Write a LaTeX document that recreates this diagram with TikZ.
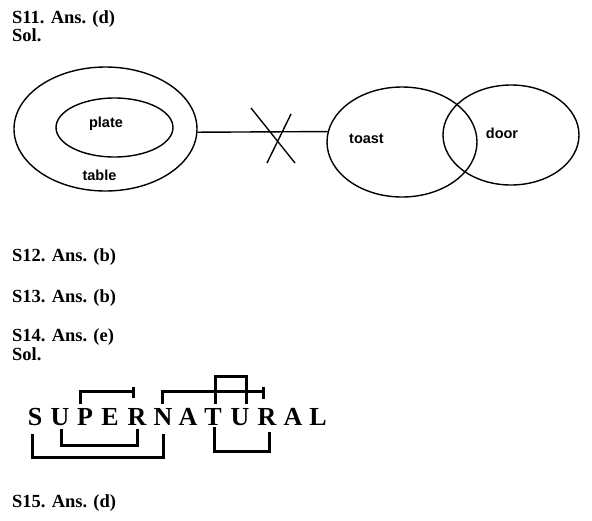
\documentclass[tikz,border=0pt]{standalone}
\usepackage{fontspec}
\setmainfont{Liberation Serif}
\newfontfamily\labelfont{Liberation Sans}
\usetikzlibrary{shapes.geometric}
\begin{document}
\begin{tikzpicture}[x=1pt,y=-1pt,
  heading/.style={anchor=base west,inner sep=0pt,font=\fontsize{18.5}{20}\selectfont\bfseries},
  setbox/.style={draw,ellipse,line width=1.4pt,inner sep=0pt},
  setlabel/.style={inner sep=0pt,font=\labelfont\fontsize{14.5}{16}\selectfont\bfseries},
  letter/.style={anchor=base,inner sep=0pt,font=\fontsize{26}{28}\selectfont\bfseries},
  bracket/.style={line width=3pt,line cap=rect},
  thinline/.style={line width=1.4pt}]
\useasboundingbox (0,0) rectangle (592,520);
\fill[white] (0,0) rectangle (592,520);
% headings
\node[heading] (h11) at (12,23) {S11. Ans. (d)};
\node[heading] (s11) at (12,41) {Sol.};
\node[heading] (h12) at (12,261) {S12. Ans. (b)};
\node[heading] (h13) at (12,302) {S13. Ans. (b)};
\node[heading] (h14) at (12,341) {S14. Ans. (e)};
\node[heading] (s14) at (12,360) {Sol.};
\node[heading] (h15) at (12,507) {S15. Ans. (d)};
% Venn diagram
\node[setbox,minimum width=183,minimum height=124] (table) at (105.5,129) {};
\node[setbox,minimum width=117,minimum height=59] (plate) at (114.5,127.5) {};
\node[setbox,minimum width=150,minimum height=110] (toast) at (402,142) {};
\node[setbox,minimum width=136,minimum height=100] (door) at (511,135) {};
\node[setlabel] (tplate) at (106,124) {plate};
\node[setlabel] (ttable) at (99.5,175) {table};
\node[setlabel] (ttoast) at (366.5,139) {toast};
\node[setlabel] (tdoor) at (502,133) {door};
\draw[thinline] (table.-2) -- (toast.172);
\draw[thinline] (251,108) -- (295,163);
\draw[thinline] (291,114) -- (267,163);
% SUPERNATURAL
\foreach \c/\x [count=\i] in {S/35,U/60,P/85,E/110,R/137,N/163,A/188,T/213,U/240,R/267,A/293,L/318}
  \node[letter] (l\i) at (\x,425) {\c};
\draw[bracket] (80,402) -- (80,391) -- (133,391);
\draw[bracket] (133,388) -- (133,396);
\draw[bracket] (162,402) -- (162,391) -- (263,391);
\draw[bracket] (263,388) -- (263,397);
\draw[bracket] (215,402) -- (215,376) -- (246,376) -- (246,402);
\draw[bracket] (61,430) -- (61,445) -- (137,445) -- (137,430);
\draw[bracket] (32,435) -- (32,457) -- (163,457) -- (163,435);
\draw[bracket] (214,428) -- (214,451) -- (269,451) -- (269,433);
\end{tikzpicture}
\end{document}
